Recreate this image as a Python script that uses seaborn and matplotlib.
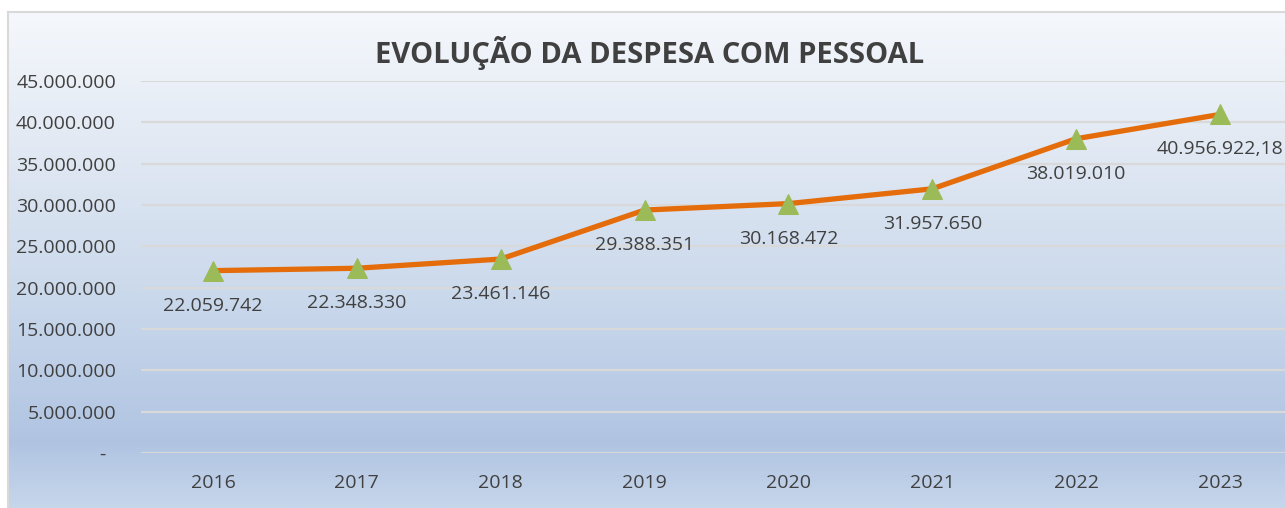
import numpy as np
import pandas as pd
import matplotlib
matplotlib.use("Agg")
import matplotlib.pyplot as plt
from matplotlib.colors import LinearSegmentedColormap
import seaborn as sns

years = ["2016", "2017", "2018", "2019", "2020", "2021", "2022", "2023"]
values = [22059742, 22348330, 23461146, 29388351, 30168472, 31957650, 38019010, 40956922.18]
value_labels = ["22.059.742", "22.348.330", "23.461.146", "29.388.351", "30.168.472",
                "31.957.650", "38.019.010", "40.956.922,18"]
yticks = [0, 5000000, 10000000, 15000000, 20000000, 25000000, 30000000, 35000000, 40000000, 45000000]
ytick_labels = ["-  ", "5.000.000", "10.000.000", "15.000.000", "20.000.000", "25.000.000",
                "30.000.000", "35.000.000", "40.000.000", "45.000.000"]
title = "EVOLUÇÃO DA DESPESA COM PESSOAL"

sns.set_theme(style="white")
plt.rcParams['font.family'] = ['Open Sans', 'DejaVu Sans']

W, H = 1285, 508
fig = plt.figure(figsize=(W / 100, H / 100), dpi=100)
fig.patch.set_facecolor("white")

# background gradient panel
bg = fig.add_axes([8 / W, 0, 1 - 8 / W, (H - 12) / H])
cmap = LinearSegmentedColormap.from_list(
    "bg", [(0.0, "#f5f8fc"), (0.25, "#e3eaf4"), (0.55, "#ccdaec"), (0.87, "#b0c4e2"), (1.0, "#c6d6eb")])
grad = np.linspace(0, 1, 256).reshape(-1, 1)
bg.imshow(grad, aspect="auto", cmap=cmap, extent=[0, 1, 0, 1], origin="upper")
bg.set_xlim(0, 1)
bg.set_ylim(0, 1)
bg.set_xticks([])
bg.set_yticks([])
for s in ["top", "left"]:
    bg.spines[s].set_visible(True)
    bg.spines[s].set_color("#d9d9d9")
    bg.spines[s].set_linewidth(1.5)
for s in ["bottom", "right"]:
    bg.spines[s].set_visible(False)

ax = fig.add_axes([141 / W, 1 - 453 / H, (1292 - 141) / W, (453 - 81) / H])
ax.set_facecolor("none")

df = pd.DataFrame({"year": years, "value": values})
sns.lineplot(data=df, x="year", y="value", ax=ax, color="#E46C0A", linewidth=3.8,
             marker="^", markersize=14, markerfacecolor="#9BBB59", markeredgecolor="#9BBB59",
             zorder=5)

for i, (v, lab) in enumerate(zip(values, value_labels)):
    ax.annotate(lab, xy=(i, v), xytext=(0, -35), textcoords="offset pixels",
                ha="center", va="center", fontsize=14, color="#404040", zorder=6,
                annotation_clip=False)

ax.set_xlim(-0.5, len(years) - 0.5)
ax.set_ylim(0, 45000000)
ax.set_yticks(yticks)
ax.set_yticklabels(ytick_labels)
ax.set_xticks(range(len(years)))
ax.set_xticklabels(years)
ax.tick_params(axis="y", length=0, pad=18, labelsize=14, labelcolor="#404040")
ax.tick_params(axis="x", length=0, pad=15, labelsize=14, labelcolor="#404040")
ax.grid(axis="y", color="#d9d9d9", linewidth=1.6)
ax.grid(axis="x", visible=False)
ax.set_axisbelow(True)
for s in ax.spines.values():
    s.set_visible(False)
ax.set_xlabel("")
ax.set_ylabel("")

fig.text(650 / W, 1 - 53 / H, title, ha="center", va="center", fontsize=21,
         fontweight="bold", color="#404040")

fig.savefig("out.png", dpi=100)
